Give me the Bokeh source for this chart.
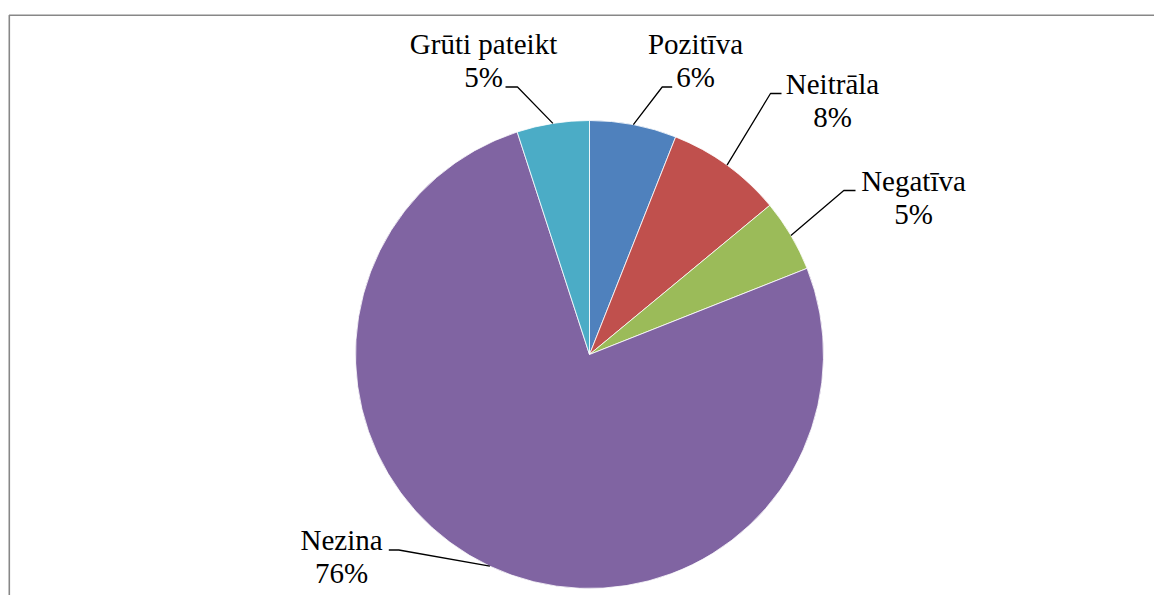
import math
from bokeh.plotting import figure
from bokeh.models import Range1d, Label
from bokeh.embed import file_html
from bokeh.resources import INLINE

# ---- data ----
categories = ["Pozitīva", "Neitrāla", "Negatīva", "Nezina", "Grūti pateikt"]
values = [6, 8, 5, 76, 5]
colors = ["#4F81BD", "#C0504D", "#9BBB59", "#8064A2", "#4BACC6"]

# ---- layout (picture pixel coordinates) ----
W, H = 1154, 595
CENTER = (589, 354)
RADIUS = 234
# label: (text centre x, baseline of first line), leader elbow (x, y), leader end x
label_layout = {
    "Pozitīva":      ((695, 53.5),  (661.7, 86.5), 671.7),
    "Neitrāla":      ((832, 93),    (770.0, 93.0), 781.0),
    "Negatīva":      ((913, 190),   (843.3, 190.0), 855.0),
    "Nezina":        ((341, 549.5), (398.3, 549.5), 388.3),
    "Grūti pateikt": ((483, 53.5),  (517.0, 86.5), 505.0),
}
LINE_GAP = 33
FONT_NAME = "Liberation Serif"
FONT_PX = 29
HALF_CAP = 0.33 * FONT_PX  # baseline -> vertical middle of the glyphs


def X(px):
    return px


def Y(py):
    return H - py


p = figure(width=W, height=H, x_range=Range1d(0, W), y_range=Range1d(0, H),
           output_backend="svg", toolbar_location=None,
           x_axis_location=None, y_axis_location=None, min_border=0)
p.grid.visible = False
p.outline_line_color = None
p.background_fill_color = "white"
p.border_fill_color = "white"

# chart frame (only top and left edges visible in the crop)
p.line(x=[X(8.8), X(8.8), X(1200)], y=[Y(640), Y(14.7), Y(14.7)],
       line_color="#878787", line_width=1.6)

cx, cy = X(CENTER[0]), Y(CENTER[1])
total = float(sum(values))
starts, ends, mids = [], [], []
cum = 0.0
for v in values:
    a0 = math.pi / 2 - 2 * math.pi * cum / total
    cum += v
    a1 = math.pi / 2 - 2 * math.pi * cum / total
    starts.append(a0)
    ends.append(a1)
    mids.append((a0 + a1) / 2)

p.wedge(x=cx, y=cy, radius=RADIUS, start_angle=starts, end_angle=ends,
        direction="clock", fill_color=colors, line_color="white", line_width=0.8)

# leaders
lx, ly = [], []
for cat, m in zip(categories, mids):
    (tx, ty), (ex, ey), endx = label_layout[cat]
    ax = cx + RADIUS * math.cos(m)
    ay = cy + RADIUS * math.sin(m)
    lx.append([ax, X(ex), X(endx)])
    ly.append([ay, Y(ey), Y(ey)])
p.multi_line(xs=lx, ys=ly, line_color="black", line_width=1.3)

# labels: name on the first line, percentage on the second
for cat, v in zip(categories, values):
    (tx, ty), _, _ = label_layout[cat]
    for line_text, base in ((cat, ty), (f"{v}%", ty + LINE_GAP)):
        p.add_layout(Label(x=X(tx), y=Y(base - HALF_CAP), text=line_text,
                           text_align="center", text_baseline="middle",
                           text_font=FONT_NAME, text_font_size=f"{FONT_PX}px",
                           text_color="black"))

open("out.html", "w").write(file_html(p, INLINE))
